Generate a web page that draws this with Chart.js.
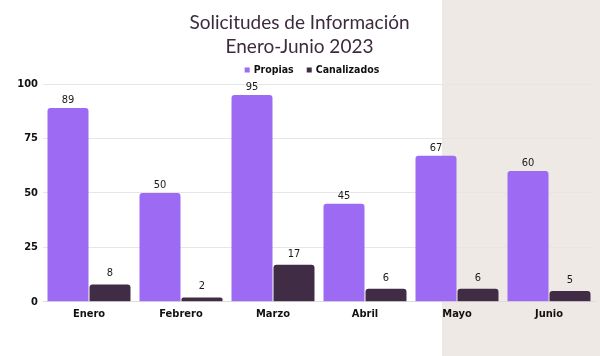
<!DOCTYPE html>
<html>
<head>
<meta charset="utf-8">
<script src="https://cdn.jsdelivr.net/npm/chart.js@4"></script>
<style>
  html, body { margin: 0; padding: 0; }
  #wrap { width: 600px; height: 356px; position: relative;
    background: linear-gradient(to right, #ffffff 0px, #ffffff 442px, #efe9e6 442px, #efe9e6 600px); }
  canvas { display: block; }
</style>
</head>
<body>
<div id="wrap"><canvas id="c" width="600" height="356"></canvas></div>
<script>
const categories = ["Enero", "Febrero", "Marzo", "Abril", "Mayo", "Junio"];
const propias = [89, 50, 95, 45, 67, 60];
const canalizados = [8, 2, 17, 6, 6, 5];
const yTicks = [0, 25, 50, 75, 100];
const titleLines = ["Solicitudes de Información", "Enero-Junio 2023"];
const seriesNames = ["Propias", "Canalizados"];
const seriesColors = ["#9d6af3", "#402d45"];
const labelOffsets = [7.5, 11];

const valueLabels = {
  id: 'valueLabels',
  afterDatasetsDraw(chart) {
    const ctx = chart.ctx;
    ctx.save();
    ctx.font = '11px "DejaVu Sans Condensed", "DejaVu Sans"';
    ctx.fillStyle = '#1a1a1a';
    ctx.textAlign = 'center';
    ctx.textBaseline = 'middle';
    chart.data.datasets.forEach((ds, i) => {
      chart.getDatasetMeta(i).data.forEach((bar, j) => {
        ctx.fillText(String(ds.data[j]), bar.x, bar.y - labelOffsets[i]);
      });
    });
    ctx.restore();
  }
};

// custom legend drawn centered slightly right of the canvas middle
const customLegend = {
  id: 'customLegend',
  afterDraw(chart) {
    const ctx = chart.ctx;
    ctx.save();
    ctx.font = 'bold 10.5px "DejaVu Sans Condensed", "DejaVu Sans"';
    const box = 5, gapBox = 4, gapItem = 13;
    const widths = chart.data.datasets.map(d => ctx.measureText(d.label).width);
    let total = 0;
    widths.forEach((w, i) => { total += box + gapBox + w + (i < widths.length - 1 ? gapItem : 0); });
    const cx = 312, cy = 70;
    let x = cx - total / 2;
    ctx.textBaseline = 'middle';
    ctx.textAlign = 'left';
    chart.data.datasets.forEach((d, i) => {
      ctx.fillStyle = d.backgroundColor;
      ctx.fillRect(x, cy - box / 2, box, box);
      x += box + gapBox;
      ctx.fillStyle = '#111';
      ctx.fillText(d.label, x, cy + 0.5);
      x += widths[i] + gapItem;
    });
    ctx.restore();
  }
};

new Chart(document.getElementById('c'), {
  type: 'bar',
  data: {
    labels: categories,
    datasets: [
      { label: seriesNames[0], data: propias, backgroundColor: seriesColors[0], borderRadius: 3,
        categoryPercentage: 0.913, barPercentage: 0.976 },
      { label: seriesNames[1], data: canalizados, backgroundColor: seriesColors[1], borderRadius: 3,
        categoryPercentage: 0.913, barPercentage: 0.976 }
    ]
  },
  options: {
    responsive: false,
    animation: false,
    layout: { padding: { left: 4, right: 5, top: 4, bottom: 37 } },
    plugins: {
      title: {
        display: true,
        text: titleLines,
        color: '#3d2b3d',
        font: { family: 'Lato', size: 19, weight: 'normal', lineHeight: 24 / 19 },
        padding: { top: 7, bottom: 25 }
      },
      legend: { display: false },
      tooltip: { enabled: false }
    },
    scales: {
      x: {
        grid: { display: false },
        border: { display: true, color: '#dddddd' },
        ticks: { color: '#111', font: { family: 'DejaVu Sans Condensed', size: 11, weight: 'bold' }, padding: -2 }
      },
      y: {
        min: 0, max: 100,
        afterBuildTicks(axis) { axis.ticks = yTicks.map(v => ({ value: v })); },
        afterFit(axis) { axis.width = 39; },
        grid: { color: '#e6e6e6', drawTicks: false },
        border: { display: false },
        ticks: { color: '#111', padding: 5, font: { family: 'DejaVu Sans Condensed', size: 11, weight: 'bold' } }
      }
    }
  },
  plugins: [valueLabels, customLegend]
});
</script>
</body>
</html>
